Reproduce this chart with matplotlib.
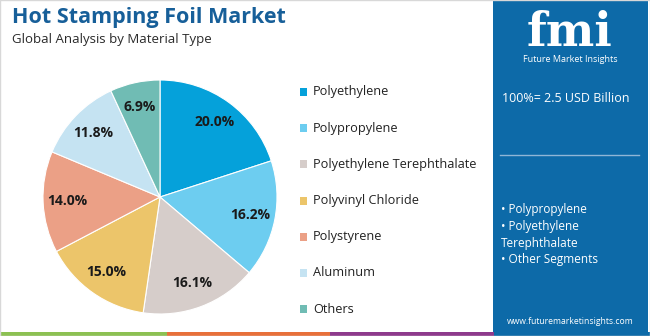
import matplotlib
matplotlib.use("Agg")
import matplotlib.pyplot as plt
from matplotlib.patches import Rectangle

plt.rcParams['font.family'] = ['Open Sans', 'DejaVu Sans']

segments = ["Polyethylene", "Polypropylene", "Polyethylene Terephthalate",
            "Polyvinyl Chloride", "Polystyrene", "Aluminum", "Others"]
shares = [20.0, 16.2, 16.1, 15.0, 14.0, 11.8, 6.9]
colors = ["#05a1da", "#6dcdf0", "#d6cdca", "#ecc56a", "#eba086", "#c5e3f2", "#70bcb4"]
panel_bullets = ["• Polypropylene", "• Polyethylene", "Terephthalate", "• Other Segments"]
total_text = "100%= 2.5 USD Billion"
stripe_colors = ["#8cc152", "#e8703a", "#8e3a8c", "#0d6aa8"]

W, H = 650, 336
fig = plt.figure(figsize=(W / 100, H / 100), dpi=100)
fig.patch.set_facecolor("white")

def fx(x): return x / W
def fy(y): return 1 - y / H

# pie
cx, cy, r = 160, 197, 117
ax = fig.add_axes([fx(cx - r), fy(cy + r), 2 * r / W, 2 * r / H])
wedges, _, autotexts = ax.pie(shares, colors=colors, startangle=90, counterclock=False,
                              autopct="%.1f%%", pctdistance=0.79,
                              wedgeprops=dict(linewidth=0.8, edgecolor="white"),
                              textprops=dict(fontsize=10, fontweight="bold", color="#1a1a1a"))
ax.set_xlim(-1, 1); ax.set_ylim(-1, 1); ax.set_aspect("equal"); ax.axis("off")

# titles
fig.text(fx(12), fy(17), "Hot Stamping Foil Market", fontsize=15.5, fontweight="bold",
         color="#175f99", va="center", ha="left")
fig.text(fx(12), fy(39), "Global Analysis by Material Type", fontsize=9.5,
         color="#2a2a2a", va="center", ha="left")

# legend
for i, (lab, col) in enumerate(zip(segments, colors)):
    y = 92 + i * 36.2
    fig.patches.append(Rectangle((fx(300), fy(y + 4)), 7 / W, 8 / H, transform=fig.transFigure,
                                 facecolor=col, edgecolor="none"))
    fig.text(fx(313), fy(y), lab, fontsize=9.2, color="#222222", va="center", ha="left")

# right panel
pc = "#0d6aa8"
fig.patches.append(Rectangle((fx(493), 0), (648 - 493) / W, 1, transform=fig.transFigure,
                             facecolor=pc, edgecolor="none"))
fig.text(fx(570), fy(33), "fmi", fontsize=33, fontweight="bold", color="white",
         ha="center", va="center", family="DejaVu Serif")
for yy in range(17, 52, 3):
    fig.lines.append(plt.Line2D([fx(515), fx(625)], [fy(yy), fy(yy)], transform=fig.transFigure,
                                color=pc, lw=0.8))
fig.text(fx(570), fy(60), "Future Market Insights", fontsize=6.5, color="white",
         ha="center", va="center")
fig.text(fx(502), fy(98), total_text, fontsize=9, color="white", ha="left", va="center")
fig.lines.append(plt.Line2D([fx(500), fx(639)], [fy(155), fy(155)], transform=fig.transFigure,
                            color="#8fb6d6", lw=1))
for i, t in enumerate(panel_bullets):
    fig.text(fx(501), fy(210 + i * 16.5), t, fontsize=8.5, color="white", ha="left", va="center")
fig.text(fx(570), fy(322), "www.futuremarketinsights.com", fontsize=6.2, color="white",
         ha="center", va="center")

# bottom stripe
edges = [0, 167, 330, 494, 650]
for i, col in enumerate(stripe_colors):
    fig.patches.append(Rectangle((fx(edges[i]), 0), (edges[i + 1] - edges[i]) / W, 4 / H,
                                 transform=fig.transFigure, facecolor=col, edgecolor="none"))

# thin frame
fig.patches.append(Rectangle((0, 0), 1, 1, transform=fig.transFigure, facecolor="none",
                             edgecolor="#d8d8d8", lw=1))

fig.savefig("out.png", dpi=100)
